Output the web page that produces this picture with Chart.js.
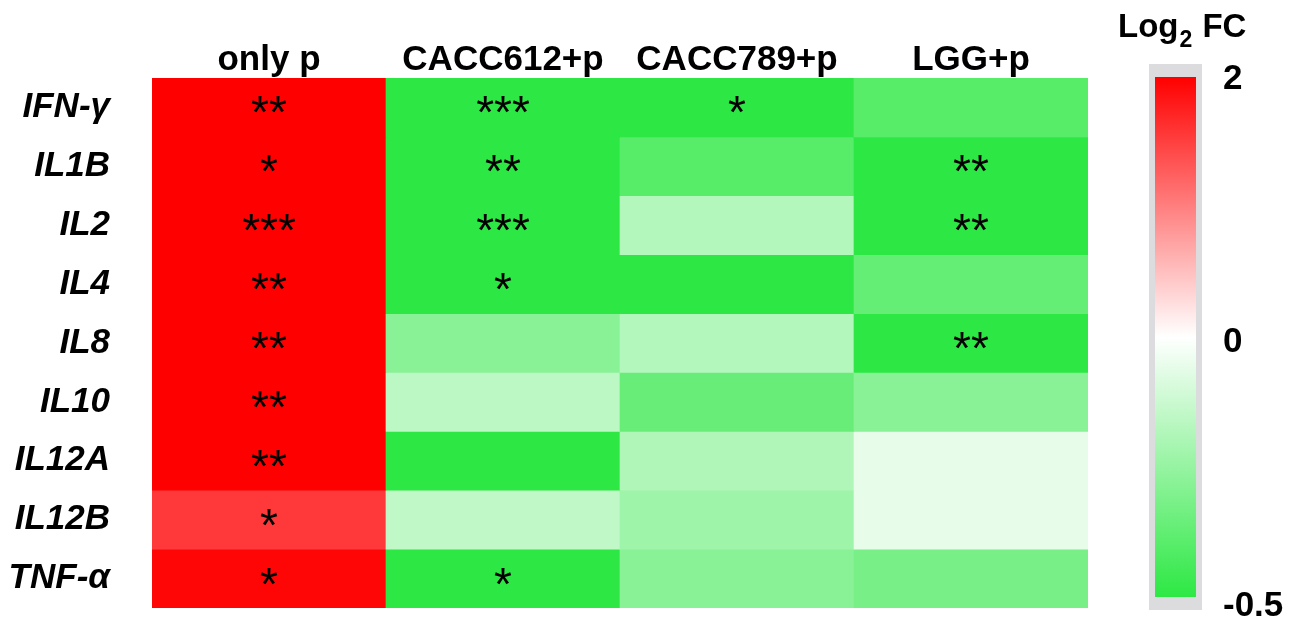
<!DOCTYPE html>
<html>
<head>
<meta charset="utf-8">
<script src="https://cdn.jsdelivr.net/npm/chart.js@4.4.1/dist/chart.umd.min.js"></script>
<style>
  html, body { margin: 0; padding: 0; background: #fff; }
  #wrap { width: 1295px; height: 623px; position: relative; }
</style>
</head>
<body>
<div id="wrap"><canvas id="heat"></canvas></div>
<script>
// rows and columns
const genes = ['IFN-γ', 'IL1B', 'IL2', 'IL4', 'IL8', 'IL10', 'IL12A', 'IL12B', 'TNF-α'];
const groups = ['only p', 'CACC612+p', 'CACC789+p', 'LGG+p'];

// log2 FC per group, same order as genes
const onlyP   = [2, 2, 2, 2, 2, 2, 2, 1.55, 1.95];
const cacc612 = [-0.5, -0.5, -0.5, -0.5, -0.28, -0.16, -0.5, -0.15, -0.5];
const cacc789 = [-0.5, -0.4, -0.18, -0.5, -0.18, -0.36, -0.19, -0.23, -0.28];
const lgg     = [-0.4, -0.5, -0.5, -0.37, -0.5, -0.28, -0.055, -0.055, -0.32];

// significance marks
const starsOnlyP = ['**', '*', '***', '**', '**', '**', '**', '*', '*'];
const stars612   = ['***', '**', '***', '*', '', '', '', '', '*'];
const stars789   = ['*', '', '', '', '', '', '', '', ''];
const starsLgg   = ['', '**', '**', '', '**', '', '', '', ''];

// colour bar
const scaleTicks = [2, 0, -0.5];
const scaleMax = 2, scaleMin = -0.5;

const RED = [255, 0, 0], WHITE = [255, 255, 255], GREEN = [45, 232, 68];
const FONT = '"Liberation Sans", Arial, sans-serif';

function colorFor(v) {
    let t, end;
    if (v >= 0) { t = Math.min(v / scaleMax, 1); end = RED; }
    else { t = Math.min(v / scaleMin, 1); end = GREEN; }
    const c = WHITE.map((w, k) => Math.round(w + (end[k] - w) * t));
    return 'rgb(' + c.join(',') + ')';
}

// fraction down the colour bar (red half on top, green half below)
function barFrac(v) {
    return v >= 0 ? (scaleMax - v) / scaleMax * 0.5 : 0.5 + v / scaleMin * 0.5;
}

const table = [onlyP, cacc612, cacc789, lgg];
const marks = [starsOnlyP, stars612, stars789, starsLgg];

// one dataset per gene row, one bar per group
const datasets = genes.map((g, i) => ({
    label: g,
    data: groups.map(() => [i - 0.5, i + 0.5]),
    backgroundColor: table.map(col => colorFor(col[i])),
    borderWidth: 0,
    grouped: false,
    barPercentage: 1,
    categoryPercentage: 1,
    stars: marks.map(col => col[i])
}));

const starPlugin = {
    id: 'stars',
    afterDatasetsDraw(chart) {
        const ctx = chart.ctx;
        ctx.save();
        ctx.font = '46px ' + FONT;
        ctx.fillStyle = '#000';
        ctx.textAlign = 'center';
        ctx.textBaseline = 'alphabetic';
        chart.data.datasets.forEach((ds, i) => {
            chart.getDatasetMeta(i).data.forEach((bar, j) => {
                const s = ds.stars[j];
                if (!s) return;
                const p = bar.getCenterPoint();
                ctx.fillText(s, p.x, p.y + 21);
            });
        });
        ctx.restore();
    }
};

const colorbarPlugin = {
    id: 'colorbar',
    afterDraw(chart) {
        const ctx = chart.ctx;
        const area = chart.chartArea;
        const x0 = area.right + 61, y0 = 64, w = 53, h = 546;
        const ix = x0 + 6, iy = y0 + 13, iw = w - 12, ih = h - 26;

        ctx.save();
        ctx.fillStyle = '#dcdcde';
        ctx.fillRect(x0, y0, w, h);

        const grad = ctx.createLinearGradient(0, iy, 0, iy + ih);
        scaleTicks.forEach(v => grad.addColorStop(barFrac(v), colorFor(v)));
        ctx.fillStyle = grad;
        ctx.fillRect(ix, iy, iw, ih);

        // tick labels
        ctx.fillStyle = '#000';
        ctx.font = 'bold 35px ' + FONT;
        ctx.textAlign = 'left';
        ctx.textBaseline = 'middle';
        const top = iy + 2, span = ih + 7;
        scaleTicks.forEach(v => {
            ctx.fillText(String(v), x0 + w + 21, top + span * barFrac(v));
        });

        // title Log2 FC
        let tx = x0 - 31;
        const ty = 37;
        ctx.textBaseline = 'alphabetic';
        ctx.font = 'bold 33px ' + FONT;
        ctx.fillText('Log', tx, ty);
        tx += ctx.measureText('Log').width + 1;
        ctx.font = 'bold 23px ' + FONT;
        ctx.fillText('2', tx, ty + 10);
        tx += ctx.measureText('2').width + 1;
        ctx.font = 'bold 33px ' + FONT;
        ctx.fillText(' FC', tx, ty);
        ctx.restore();
    }
};

new Chart(document.getElementById('heat'), {
    type: 'bar',
    data: { labels: groups, datasets: datasets },
    options: {
        responsive: true,
        maintainAspectRatio: false,
        animation: false,
        layout: { padding: { left: 0, top: 0, right: 207, bottom: 15 } },
        plugins: {
            legend: { display: false },
            tooltip: { enabled: false }
        },
        scales: {
            x: {
                position: 'top',
                grid: { display: false, drawTicks: false },
                border: { display: false },
                ticks: {
                    color: '#000',
                    font: { family: FONT, size: 35, weight: 'bold', lineHeight: 1 },
                    padding: 0,
                    maxRotation: 0
                },
                afterFit: s => { s.height = 78; s.paddingLeft = 0; s.paddingRight = 0; }
            },
            y: {
                type: 'linear',
                min: -0.5,
                max: genes.length - 0.5,
                reverse: true,
                afterBuildTicks: s => { s.ticks = genes.map((g, i) => ({ value: i })); },
                grid: { display: false, drawTicks: false },
                border: { display: false },
                ticks: {
                    color: '#000',
                    font: { family: FONT, size: 35, weight: 'bold', style: 'italic' },
                    padding: 42,
                    autoSkip: false,
                    callback: v => genes[v]
                },
                afterFit: s => { s.width = 152; s.paddingTop = 0; s.paddingBottom = 0; }
            }
        }
    },
    plugins: [starPlugin, colorbarPlugin]
});
</script>
</body>
</html>
